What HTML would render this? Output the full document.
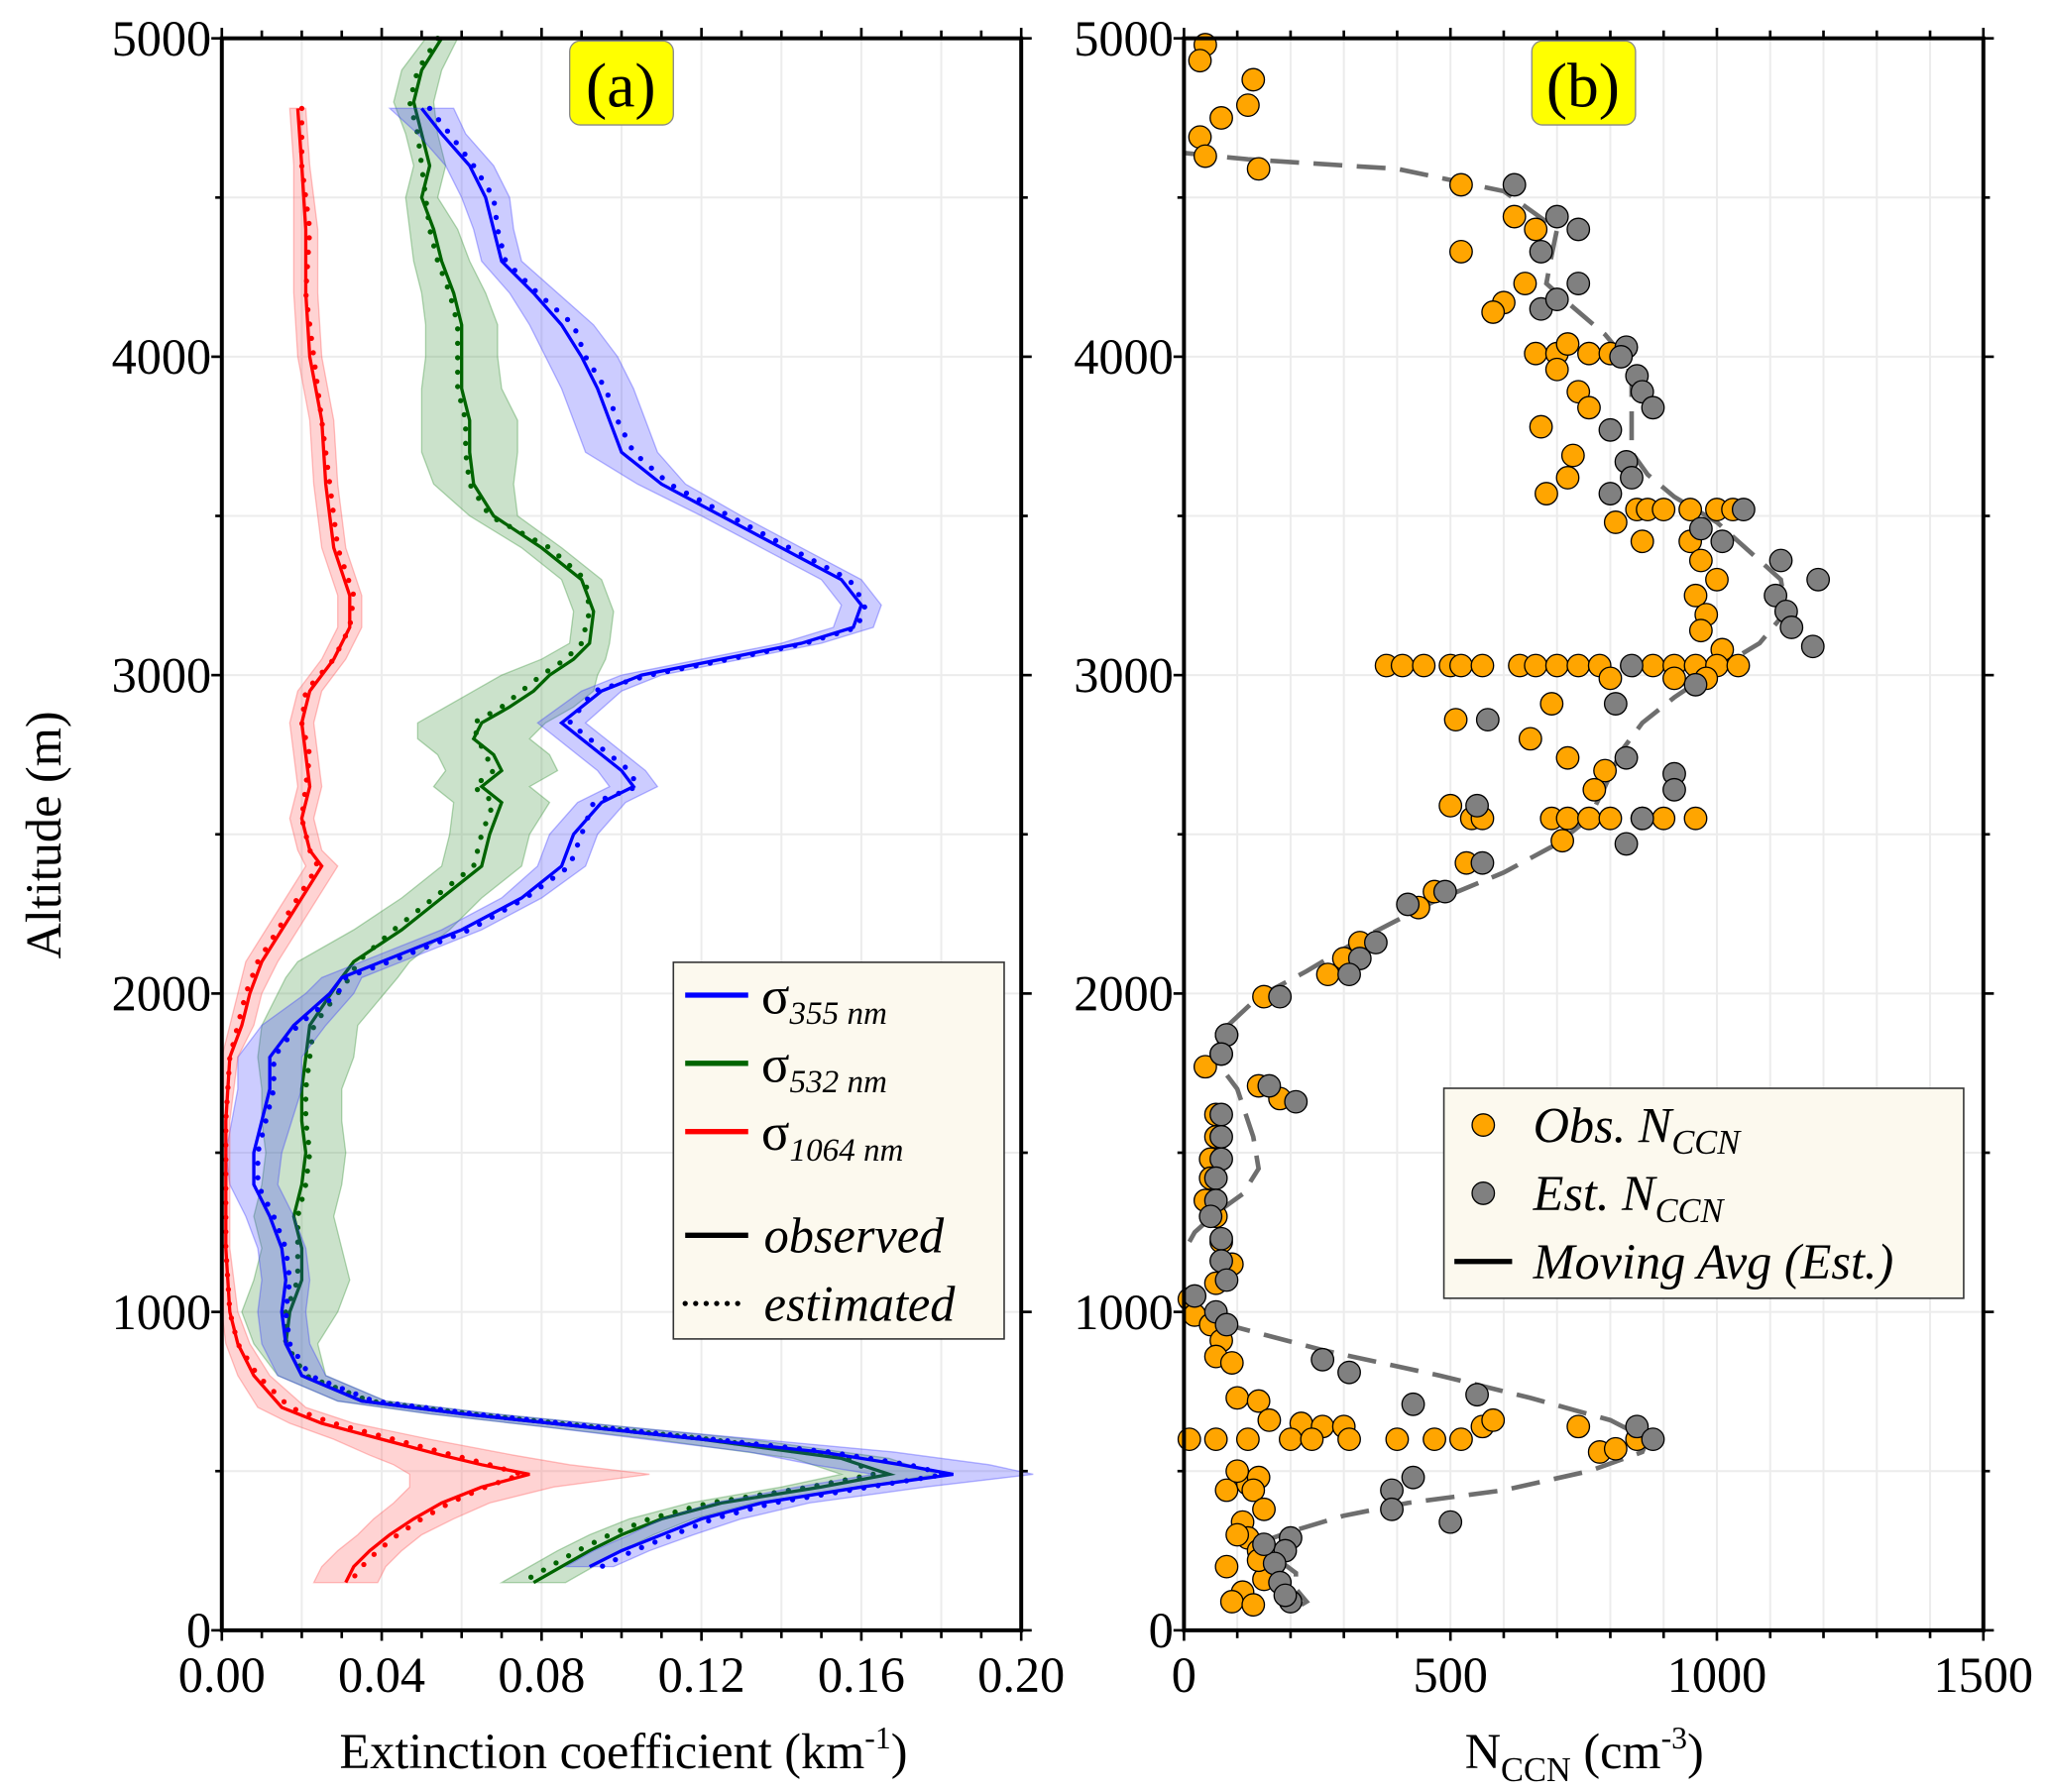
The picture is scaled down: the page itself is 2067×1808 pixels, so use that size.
<!DOCTYPE html>
<html><head><meta charset="utf-8"><style>
html,body{margin:0;padding:0;background:#fff}
svg{display:block}
text{font-family:"Liberation Serif",serif;fill:#000}
</style></head><body>
<svg id="chart" xmlns="http://www.w3.org/2000/svg" width="2067" height="1808" viewBox="0 0 1561 1365">
<g id="panelA"></g>
<g id="panelB"></g>
<g>
  <rect x="434" y="31" width="79" height="64" rx="8" fill="#ffff00" stroke="#888" stroke-width="1"/>
  <text x="473" y="81" font-size="48" text-anchor="middle">(a)</text>
  <rect x="1167" y="31" width="79" height="64" rx="8" fill="#ffff00" stroke="#888" stroke-width="1"/>
  <text x="1206" y="81" font-size="48" text-anchor="middle">(b)</text>
</g>
<g>
  <text transform="translate(46 636) rotate(-90)" font-size="38" text-anchor="middle">Altitude (m)</text>
  <text x="475" y="1347" font-size="38" text-anchor="middle">Extinction coefficient (km<tspan font-size="24" dy="-15">-1</tspan><tspan dy="15">)</tspan></text>
  <text x="1207" y="1347" font-size="38" text-anchor="middle">N<tspan font-size="26" dy="10">CCN</tspan><tspan dy="-10"> (cm</tspan><tspan font-size="24" dy="-15">-3</tspan><tspan dy="15">)</tspan></text>
</g>
<g>
  <rect x="513" y="733" width="252" height="287" fill="#fcf9ee" stroke="#333" stroke-width="1.2"/>
  <line x1="522" y1="758" x2="570" y2="758" stroke="#0000ff" stroke-width="4"/>
  <text x="580" y="772" font-size="40">σ<tspan font-size="25" font-style="italic" dy="8">355 nm</tspan></text>
  <line x1="522" y1="810" x2="570" y2="810" stroke="#006400" stroke-width="4"/>
  <text x="580" y="824" font-size="40">σ<tspan font-size="25" font-style="italic" dy="8">532 nm</tspan></text>
  <line x1="522" y1="862" x2="570" y2="862" stroke="#ff0000" stroke-width="4"/>
  <text x="580" y="876" font-size="40">σ<tspan font-size="25" font-style="italic" dy="8">1064 nm</tspan></text>
  <line x1="522" y1="941" x2="570" y2="941" stroke="#000" stroke-width="4"/>
  <text x="582" y="954" font-size="38" font-style="italic">observed</text>
  <line x1="522" y1="993" x2="570" y2="993" stroke="#000" stroke-width="4" stroke-dasharray="0 8" stroke-linecap="round"/>
  <text x="582" y="1006" font-size="38" font-style="italic">estimated</text>
</g>
<g>
  <rect x="1100" y="829" width="396" height="160" fill="#fcf9ee" stroke="#333" stroke-width="1.2"/>
  <circle cx="1130" cy="857" r="8.5" fill="#ffa500" stroke="#000"/>
  <text x="1168" y="870" font-size="38" font-style="italic">Obs. N<tspan font-size="26" dy="9">CCN</tspan></text>
  <circle cx="1130" cy="909" r="8.5" fill="#808080" stroke="#000"/>
  <text x="1168" y="922" font-size="38" font-style="italic">Est. N<tspan font-size="26" dy="9">CCN</tspan></text>
  <line x1="1108" y1="961" x2="1152" y2="961" stroke="#000" stroke-width="4"/>
  <text x="1168" y="974" font-size="38" font-style="italic">Moving Avg (Est.)</text>
</g>
</svg>
<script>
// ---- Panel (a) data ----
const altBlue = [4780,4700,4600,4500,4400,4300,4200,4100,4000,3900,3800,3700,3600,3500,3400,3300,3220,3150,3100,3050,3000,2950,2850,2800,2700,2650,2600,2500,2400,2300,2200,2100,2050,2000,1900,1800,1700,1500,1400,1300,1200,1100,1000,900,800,720,680,640,600,560,520,490,450,400,350,300,250,200];
const obsBlue = [0.050,0.055,0.062,0.066,0.068,0.070,0.078,0.085,0.090,0.094,0.097,0.100,0.110,0.125,0.140,0.155,0.160,0.158,0.145,0.125,0.105,0.095,0.085,0.090,0.100,0.103,0.095,0.088,0.085,0.075,0.060,0.040,0.030,0.027,0.018,0.012,0.012,0.008,0.008,0.012,0.015,0.016,0.015,0.016,0.020,0.035,0.060,0.090,0.120,0.150,0.170,0.183,0.160,0.135,0.120,0.110,0.100,0.092];
const estBlue = [0.052,0.057,0.063,0.068,0.069,0.071,0.079,0.088,0.091,0.096,0.099,0.103,0.112,0.127,0.142,0.157,0.161,0.159,0.146,0.127,0.107,0.093,0.087,0.092,0.102,0.104,0.093,0.090,0.087,0.076,0.062,0.042,0.031,0.029,0.019,0.013,0.013,0.009,0.009,0.013,0.016,0.017,0.016,0.017,0.022,0.038,0.063,0.093,0.123,0.152,0.172,0.181,0.162,0.138,0.123,0.113,0.103,0.095];
const spreadBlue = [0.008,0.006,0.006,0.006,0.005,0.005,0.006,0.008,0.009,0.009,0.009,0.009,0.006,0.005,0.005,0.005,0.005,0.005,0.005,0.005,0.005,0.005,0.006,0.006,0.006,0.006,0.006,0.006,0.006,0.005,0.005,0.005,0.005,0.006,0.008,0.008,0.008,0.007,0.006,0.006,0.006,0.006,0.006,0.006,0.006,0.006,0.008,0.010,0.014,0.018,0.022,0.020,0.016,0.012,0.010,0.008,0.007,0.006];
const altGreen = [5000,4900,4800,4700,4600,4500,4400,4300,4200,4100,4000,3900,3800,3700,3600,3500,3400,3300,3200,3100,3050,3000,2950,2900,2850,2800,2750,2700,2650,2600,2500,2400,2300,2200,2100,2050,1900,1800,1700,1600,1500,1400,1300,1200,1100,1000,900,800,720,680,640,600,540,490,450,400,350,300,250,200,150];
const obsGreen = [0.055,0.050,0.048,0.050,0.052,0.050,0.053,0.055,0.058,0.060,0.060,0.060,0.062,0.062,0.063,0.068,0.080,0.090,0.093,0.092,0.088,0.082,0.078,0.072,0.065,0.063,0.068,0.070,0.065,0.070,0.067,0.065,0.055,0.045,0.033,0.030,0.022,0.021,0.020,0.020,0.021,0.020,0.018,0.020,0.020,0.017,0.016,0.020,0.035,0.060,0.090,0.120,0.155,0.167,0.150,0.125,0.110,0.100,0.092,0.085,0.078];
const estGreen = [0.054,0.049,0.047,0.049,0.050,0.051,0.052,0.054,0.057,0.059,0.059,0.059,0.061,0.061,0.062,0.067,0.082,0.091,0.092,0.090,0.086,0.080,0.075,0.070,0.063,0.064,0.066,0.068,0.063,0.068,0.065,0.063,0.053,0.043,0.034,0.032,0.023,0.022,0.021,0.021,0.022,0.021,0.019,0.019,0.019,0.016,0.016,0.021,0.037,0.062,0.092,0.122,0.157,0.163,0.147,0.122,0.107,0.097,0.089,0.082,0.075];
const spreadGreen = [0.004,0.005,0.005,0.004,0.004,0.004,0.006,0.007,0.008,0.009,0.009,0.010,0.012,0.012,0.010,0.006,0.005,0.005,0.005,0.005,0.008,0.012,0.015,0.016,0.016,0.014,0.014,0.014,0.012,0.012,0.010,0.010,0.010,0.012,0.014,0.014,0.012,0.012,0.010,0.010,0.010,0.010,0.010,0.010,0.012,0.012,0.008,0.006,0.006,0.008,0.010,0.012,0.012,0.012,0.010,0.008,0.008,0.008,0.008,0.008,0.008];
const altRed = [4780,4600,4400,4200,4000,3800,3600,3400,3250,3150,3050,2950,2850,2750,2650,2550,2450,2400,2300,2200,2100,2000,1900,1800,1600,1200,1000,900,800,700,650,600,550,520,490,450,400,350,300,250,200,150];
const obsRed = [0.019,0.020,0.021,0.021,0.022,0.025,0.026,0.028,0.032,0.032,0.028,0.022,0.020,0.021,0.022,0.020,0.022,0.025,0.020,0.015,0.010,0.007,0.005,0.002,0.001,0.001,0.002,0.004,0.008,0.015,0.025,0.040,0.055,0.065,0.077,0.065,0.055,0.048,0.042,0.037,0.033,0.031];
const estRed = [0.020,0.020,0.022,0.021,0.023,0.025,0.027,0.029,0.033,0.032,0.028,0.021,0.020,0.022,0.021,0.020,0.022,0.024,0.019,0.014,0.009,0.006,0.004,0.002,0.001,0.001,0.002,0.004,0.009,0.017,0.028,0.043,0.058,0.067,0.075,0.066,0.057,0.050,0.044,0.039,0.035,0.032];
const spreadRed = [0.002,0.002,0.003,0.003,0.003,0.003,0.003,0.003,0.003,0.003,0.003,0.003,0.003,0.003,0.003,0.003,0.003,0.004,0.004,0.004,0.004,0.003,0.003,0.002,0.001,0.001,0.002,0.003,0.004,0.006,0.008,0.012,0.018,0.022,0.030,0.018,0.012,0.010,0.008,0.008,0.008,0.008];
const xTicksA = ["0.00","0.04","0.08","0.12","0.16","0.20"];
const xTickValsA = [0,0.04,0.08,0.12,0.16,0.20];
const yTicks = [0,1000,2000,3000,4000,5000];

// ---- Panel (b) data ----
const obsN = [40,30,130,120,70,30,40,140,520,620,660,520,640,600,580,660,700,720,760,800,700,740,760,670,730,720,680,850,870,900,950,1000,1030,810,950,860,970,1000,960,980,970,1010,380,410,450,500,520,560,630,660,700,740,780,880,920,960,1000,1040,800,920,980,690,510,650,720,790,770,500,540,560,690,720,760,800,860,900,960,710,530,470,440,330,300,270,150,80,70,40,140,180,60,60,50,50,40,60,70,90,60,10,20,50,70,60,90,100,140,160,220,260,300,10,60,120,200,240,310,400,470,520,560,580,740,780,810,850,80,120,140,100,130,150,110,120,140,80,150,110,90,130,140,100];
const obsAlt = [4980,4930,4870,4790,4750,4690,4630,4590,4540,4440,4400,4330,4230,4170,4140,4010,4010,4040,4010,4010,3960,3890,3840,3780,3690,3620,3570,3520,3520,3520,3520,3520,3520,3480,3420,3420,3360,3300,3250,3190,3140,3080,3030,3030,3030,3030,3030,3030,3030,3030,3030,3030,3030,3030,3030,3030,3030,3030,2990,2990,2990,2910,2860,2800,2740,2700,2640,2590,2550,2550,2550,2550,2550,2550,2550,2550,2550,2480,2410,2320,2270,2160,2110,2060,1990,1870,1810,1770,1710,1670,1620,1550,1480,1420,1350,1300,1220,1150,1090,1040,990,960,910,860,840,730,720,660,650,640,640,600,600,600,600,600,600,600,600,600,640,660,640,560,570,600,440,460,480,500,440,380,340,290,250,200,160,120,90,80,220,300];
const estN = [620,700,740,670,740,670,700,830,820,850,860,880,800,830,840,800,1050,970,1010,1190,1120,1110,1130,1140,1180,960,840,810,570,830,920,920,860,830,550,560,490,420,360,330,310,180,80,70,210,160,70,70,70,60,60,50,70,70,80,20,60,80,260,310,550,430,850,880,430,390,390,500,200,190,170,180,200,190,150];
const estAlt = [4540,4440,4400,4330,4230,4150,4180,4030,4000,3940,3890,3840,3770,3670,3620,3570,3520,3460,3420,3300,3360,3250,3200,3150,3090,2970,3030,2910,2860,2740,2690,2640,2550,2470,2590,2410,2320,2280,2160,2110,2060,1990,1870,1810,1660,1710,1620,1550,1480,1420,1350,1300,1230,1160,1100,1050,1000,960,850,810,740,710,640,600,480,440,380,340,290,250,210,150,90,110,270];
const avgN1 = [0,120,400,600,700,690,680,720,790,830,840,840,840,870,920,1000,1060,1120,1130,1080,1000,920,860,820,790,760,700,600,470,330,230,140,70,60,100,130,140,110,60,20,0];
const avgAlt1 = [4640,4620,4590,4520,4400,4320,4230,4170,4070,3990,3920,3800,3700,3630,3560,3480,3390,3300,3200,3100,3020,2930,2850,2760,2650,2550,2470,2380,2290,2170,2070,1990,1880,1790,1700,1550,1450,1370,1310,1250,1190];
const avgN2 = [0,80,260,480,650,800,870,860,760,600,420,300,200,150,170,210,210,230,220];
const avgAlt2 = [1030,960,880,800,730,660,600,560,500,440,400,360,310,280,230,180,130,90,80];
const xTicksB = ["0","500","1000","1500"];
const xTickValsB = [0,500,1000,1500];

const NS = "http://www.w3.org/2000/svg";
function mk(parent, tag, attrs, txt){
  const e = document.createElementNS(NS, tag);
  for (const k in attrs) e.setAttribute(k, attrs[k]);
  if (txt !== undefined) e.textContent = txt;
  parent.appendChild(e); return e;
}
const top_ = 29, bot = 1242;
function yS(a){ return bot - (a/5000)*(bot-top_); }
const aL = 169, aR = 778, bL = 902, bR = 1511;
function xA(v){ return aL + (v/0.2)*(aR-aL); }
function xB(v){ return bL + (v/1500)*(bR-bL); }

function frame(g, L, R, xfun, gridXs){
  gridXs.forEach(v=>{
    const l = mk(g,'line',{x1:xfun(v),x2:xfun(v),y1:top_,y2:bot,stroke:'#ececec','stroke-width':1.5});
    
    
  });
  for (let a=500;a<5000;a+=500){
    const l = mk(g,'line',{x1:L,x2:R,y1:yS(a),y2:yS(a),stroke:'#ececec','stroke-width':1.5});
    
    
  }
}
function axes(g, L, R, xfun, xvals, xlabs, minorStep, minorMax){
  const b = mk(g,'rect',{x:L,y:top_,width:R-L,height:bot-top_,fill:'none',stroke:'#000','stroke-width':3});
  
  
  for (let v=0; v<=minorMax+1e-9; v+=minorStep){
    const x = xfun(v);
    const major = xvals.some(m=>Math.abs(m-v)<1e-9);
    const len = major?8:6;
    mk(g,'line',{x1:x,x2:x,y1:bot,y2:bot+len,stroke:'#000','stroke-width':2});
    mk(g,'line',{x1:x,x2:x,y1:top_,y2:top_-len,stroke:'#000','stroke-width':2});
  }
  for (let a=0;a<=5000;a+=500){
    const major = a%1000===0;
    mk(g,'line',{x1:L-(major?8:5),x2:L,y1:yS(a),y2:yS(a),stroke:'#000','stroke-width':2});
    mk(g,'line',{x1:R,x2:R+(major?8:5),y1:yS(a),y2:yS(a),stroke:'#000','stroke-width':2});
  }
  xvals.forEach((v,i)=>{
    const t = mk(g,'text',{x:xfun(v),y:bot+47,'font-size':38,'text-anchor':'middle'},xlabs[i]);
    
    
  });
  yTicks.forEach(v=>{
    const t = mk(g,'text',{x:L-8,y:yS(v)+13,'font-size':38,'text-anchor':'end'},String(v));
    
    
  });
}

const gA = document.getElementById('panelA');
const gB = document.getElementById('panelB');
frame(gA,aL,aR,xA,[0.02,0.04,0.06,0.08,0.10,0.12,0.14,0.16,0.18]);
frame(gB,bL,bR,xB,[100,200,300,400,500,600,700,800,900,1000,1100,1200,1300,1400]);

function series(alts, obs, est, spread, color, bandColor, name){
  let up='', dn='';
  alts.forEach((a,i)=>{ up += (i?'L':'M')+xA(obs[i]+spread[i])+','+yS(a); });
  for (let i=alts.length-1;i>=0;i--) dn += 'L'+xA(Math.max(0,obs[i]-spread[i]))+','+yS(alts[i]);
  const band = mk(gA,'path',{d:up+dn+'Z',fill:bandColor,'fill-opacity':0.25,stroke:bandColor,'stroke-opacity':0.35,'stroke-width':1});
  
  
  const po = alts.map((a,i)=>xA(obs[i])+','+yS(a)).join(' ');
  const l = mk(gA,'polyline',{points:po,fill:'none',stroke:color,'stroke-width':2.5});
  
  
  const pe = alts.map((a,i)=>xA(est[i])+','+yS(a)).join(' ');
  const d = mk(gA,'polyline',{points:pe,fill:'none',stroke:color,'stroke-width':4,'stroke-dasharray':'0 11','stroke-linecap':'round'});
  
  
}
series(altGreen,obsGreen,estGreen,spreadGreen,'#006400','#2e8b2e','sigma-532');
series(altBlue,obsBlue,estBlue,spreadBlue,'#0000ff','#3535ff','sigma-355');
series(altRed,obsRed,estRed,spreadRed,'#ff0000','#ff5050','sigma-1064');

function dashLine(ns, as, name){
  const p = mk(gB,'polyline',{points:ns.map((n,i)=>xB(n)+','+yS(as[i])).join(' '),fill:'none',stroke:'#6e6e6e','stroke-width':3.5,'stroke-dasharray':'22 11'});
  
  
}
dashLine(avgN1,avgAlt1,'moving-average-upper');
dashLine(avgN2,avgAlt2,'moving-average-lower');
obsN.forEach((n,i)=>{
  const c = mk(gB,'circle',{cx:xB(n),cy:yS(obsAlt[i]),r:8.5,fill:'#ffa500',stroke:'#000','stroke-width':1});
  
  
});
estN.forEach((n,i)=>{
  const c = mk(gB,'circle',{cx:xB(n),cy:yS(estAlt[i]),r:8.5,fill:'#808080',stroke:'#000','stroke-width':1});
  
  
});

axes(gA,aL,aR,xA,xTickValsA,xTicksA,0.01,0.2);
axes(gB,bL,bR,xB,xTickValsB,xTicksB,100,1500);
</script>
</body></html>
